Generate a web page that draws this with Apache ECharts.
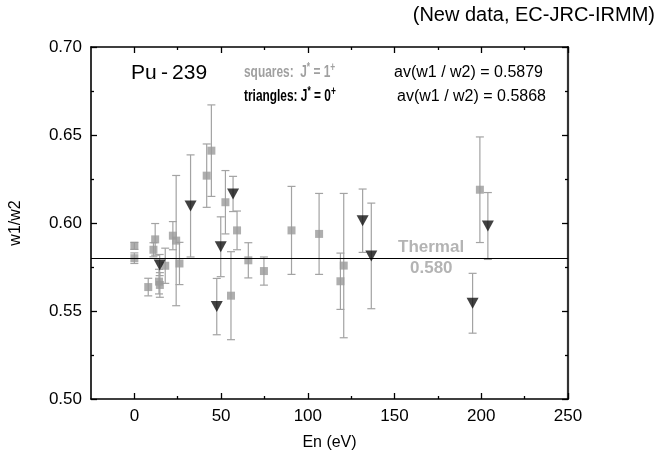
<!DOCTYPE html>
<html>
<head>
<meta charset="utf-8">
<script src="https://cdn.jsdelivr.net/npm/echarts@6/dist/echarts.min.js"></script>
<style>html,body{margin:0;padding:0;background:#fff}#c{width:662px;height:461px}</style>
</head>
<body>
<div id="c"></div>
<script>
// ---- data ----
const squareE   = [0, 0, 8, 11, 12, 14.2, 14.7, 17.8, 22.2, 24.1, 26, 41.7, 44.4, 52.5, 55.7, 59.2, 65.7, 74.7, 90.6, 106.5, 118.8, 120.7, 199.2];
const squareW   = [0.587, 0.580, 0.5636, 0.5848, 0.5907, 0.5667, 0.5648, 0.5757, 0.5928, 0.590, 0.577, 0.6269, 0.6411, 0.6118, 0.5587, 0.5958, 0.5788, 0.5727, 0.5958, 0.5938, 0.5669, 0.5758, 0.6189];
const squareErr = [0.002, 0.003, 0.005, 0.004, 0.009, 0.007, 0.007, 0.010, 0.008, 0.037, 0.012, 0.018, 0.026, 0.018, 0.025, 0.011, 0.010, 0.008, 0.025, 0.023, 0.016, 0.041, 0.030];

const triE   = [14.6, 32.4, 47.5, 49.8, 56.9, 131.6, 136.6, 195, 203.8];
const triW   = [0.5761, 0.6097, 0.5525, 0.5865, 0.6165, 0.6013, 0.5813, 0.5544, 0.5983];
const triErr = [0.006, 0.029, 0.016, 0.017, 0.010, 0.018, 0.030, 0.017, 0.019];

const thermal = 0.580;
const xMajor = [0, 50, 100, 150, 200, 250];
const xMinor = [25, 75, 125, 175, 225];

// ---- build ----
const FONT = '"Liberation Sans", Arial, Helvetica, sans-serif';
const sqPts = squareE.map((e, i) => [e, squareW[i]]);
const triPts = triE.map((e, i) => [e, triW[i]]);
const errData = squareE.map((e, i) => [e, squareW[i] - squareErr[i], squareW[i] + squareErr[i]])
  .concat(triE.map((e, i) => [e, triW[i] - triErr[i], triW[i] + triErr[i]]));

function renderErr(params, api) {
  const x = api.value(0);
  const lo = api.coord([x, api.value(1)]);
  const hi = api.coord([x, api.value(2)]);
  const w = 4;
  const st = { stroke: '#a3a3a3', lineWidth: 1.2 };
  return { type: 'group', children: [
    { type: 'line', shape: { x1: lo[0], y1: lo[1], x2: hi[0], y2: hi[1] }, style: st },
    { type: 'line', shape: { x1: lo[0] - w, y1: lo[1], x2: lo[0] + w, y2: lo[1] }, style: st },
    { type: 'line', shape: { x1: hi[0] - w, y1: hi[1], x2: hi[0] + w, y2: hi[1] }, style: st }
  ]};
}

const baseX = { type: 'value', min: -25, max: 250, splitLine: { show: false } };
const chart = echarts.init(document.getElementById('c'));
chart.setOption({
  animation: false,
  backgroundColor: '#fff',
  grid: { left: 91, right: 94, top: 47, bottom: 62, containLabel: false },
  xAxis: [
    Object.assign({}, baseX, { position: 'bottom',
      axisLine: { show: true, onZero: false, lineStyle: { color: '#000', width: 1.6 } },
      axisTick: { show: true, inside: true, length: 6, customValues: xMajor, lineStyle: { color: '#000', width: 1.3 } },
      axisLabel: { show: true, customValues: xMajor, margin: 9, color: '#000', fontSize: 17, fontFamily: FONT },
      name: 'En (eV)', nameLocation: 'middle', nameGap: 36, nameTextStyle: { color: '#000', fontSize: 16, fontFamily: FONT } }),
    Object.assign({}, baseX, { position: 'bottom',
      axisLine: { show: false, onZero: false },
      axisTick: { show: true, inside: true, length: 3, customValues: xMinor, lineStyle: { color: '#000', width: 1.3 } },
      axisLabel: { show: false } }),
    Object.assign({}, baseX, { position: 'top',
      axisLine: { show: true, onZero: false, lineStyle: { color: '#000', width: 1.6 } },
      axisTick: { show: true, inside: true, length: 6, customValues: xMajor, lineStyle: { color: '#000', width: 1.3 } },
      axisLabel: { show: false } }),
    Object.assign({}, baseX, { position: 'top',
      axisLine: { show: false, onZero: false },
      axisTick: { show: true, inside: true, length: 3, customValues: xMinor, lineStyle: { color: '#000', width: 1.3 } },
      axisLabel: { show: false } })
  ],
  yAxis: [
    { type: 'value', position: 'left', min: 0.5, max: 0.7, interval: 0.05, splitLine: { show: false },
      axisLine: { show: true, onZero: false, lineStyle: { color: '#000', width: 1.6 } },
      axisTick: { show: true, inside: true, length: 6, lineStyle: { color: '#000', width: 1.3 } },
      minorTick: { show: true, splitNumber: 2, length: 3, lineStyle: { color: '#000', width: 1.3 } },
      axisLabel: { margin: 9, color: '#000', fontSize: 17, fontFamily: FONT, formatter: v => v.toFixed(2) },
      name: 'w1/w2', nameLocation: 'middle', nameGap: 67, nameTextStyle: { color: '#000', fontSize: 16, fontFamily: FONT } },
    { type: 'value', position: 'right', min: 0.5, max: 0.7, interval: 0.05, splitLine: { show: false },
      axisLine: { show: true, onZero: false, lineStyle: { color: '#333', width: 2.2 } },
      axisTick: { show: true, inside: true, length: 6, lineStyle: { color: '#000', width: 1.3 } },
      minorTick: { show: true, splitNumber: 2, length: 3, lineStyle: { color: '#000', width: 1.3 } },
      axisLabel: { show: false } }
  ],
  series: [
    { type: 'custom', xAxisIndex: 0, yAxisIndex: 0, renderItem: renderErr, data: errData, z: 2,
      encode: { x: 0, y: [1, 2] },
      markLine: { silent: true, symbol: ['none', 'none'], label: { show: false },
        lineStyle: { color: '#000', width: 1, type: 'solid' }, data: [{ yAxis: thermal }] } },
    { type: 'scatter', xAxisIndex: 0, yAxisIndex: 0, data: sqPts, symbol: 'rect', symbolSize: 8,
      itemStyle: { color: '#9a9a9a' }, z: 3 },
    { type: 'scatter', xAxisIndex: 0, yAxisIndex: 0, data: triPts, symbol: 'triangle', symbolRotate: 180,
      symbolSize: [12, 11], itemStyle: { color: '#111' }, z: 4 }
  ],
  graphic: [
    { type: 'text', right: 7, top: 5, style: { text: '(New data, EC-JRC-IRMM)', fill: '#000', font: '20px ' + FONT } },
    { type: 'text', left: 131, top: 63, style: { text: 'Pu\u2009-\u2009239', fill: '#000', font: '21px ' + FONT } },
    { type: 'text', x: 244, y: 62, scaleX: 0.7, style: {
        text: '{b|squares:  J}{s|*}{b| = 1}{s|+}',
        rich: { b: { fill: '#a0a0a0', font: 'bold 17px ' + FONT, lineHeight: 20 },
                s: { fill: '#a0a0a0', font: 'bold 12px ' + FONT, verticalAlign: 'top', lineHeight: 20 } } } },
    { type: 'text', x: 244, y: 86, scaleX: 0.7, style: {
        text: '{b|triangles: J}{s|*}{b| = 0}{s|+}',
        rich: { b: { fill: '#000', font: 'bold 17px ' + FONT, lineHeight: 20 },
                s: { fill: '#000', font: 'bold 12px ' + FONT, verticalAlign: 'top', lineHeight: 20 } } } },
    { type: 'text', left: 394, top: 65, style: { text: 'av(w1 / w2) = 0.5879', fill: '#000', font: '16px ' + FONT } },
    { type: 'text', left: 397, top: 89, style: { text: 'av(w1 / w2) = 0.5868', fill: '#000', font: '16px ' + FONT } },
    { type: 'text', left: 398, top: 239, style: { text: 'Thermal', fill: '#b4b4b4', font: 'bold 17px ' + FONT } },
    { type: 'text', left: 410, top: 260, style: { text: '0.580', fill: '#b4b4b4', font: 'bold 17px ' + FONT } }
  ]
});
</script>
</body>
</html>
